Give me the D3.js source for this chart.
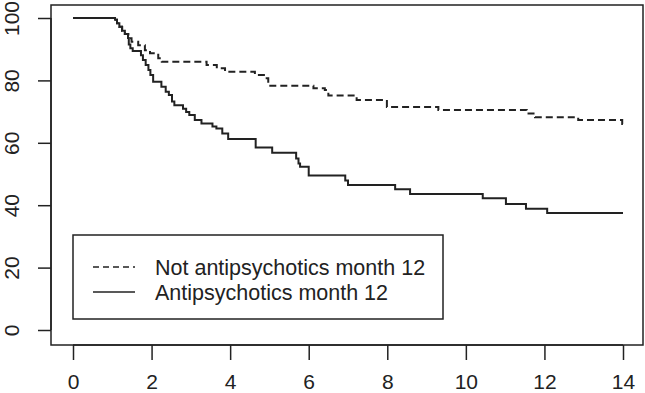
<!DOCTYPE html>
<html lang="en">
  <head>
    <meta charset="UTF-8" />
    <title>Survival curves</title>
    <style>
      body { margin: 0; background: #fff; }
      text { font-family: "Liberation Sans", Arial, sans-serif; fill: #222; }
    </style>
  </head>
  <body>
    <script src="https://cdn.jsdelivr.net/npm/d3@7"></script>
    <script>
      // step points [time, percent]
      var notAntiTimes = [0, 1.07, 1.12, 1.18, 1.25, 1.32, 1.41, 1.49, 1.66, 1.83, 1.96, 2.17, 2.26,
                          3.40, 3.66, 3.87, 4.63, 4.93, 4.97, 6.12, 6.41, 6.50, 7.22, 7.99, 9.30,
                          11.55, 11.76, 12.86, 13.98, 14.0];
      var notAntiValues = [100, 99.4, 98.3, 97.2, 95.9, 94.9, 93.5, 92.4, 91.3, 89.7, 88.7, 87.1, 86.0,
                           84.9, 83.9, 82.8, 81.7, 80.7, 78.3, 77.5, 76.9, 75.2, 73.7, 71.5, 70.5,
                           69.4, 68.2, 67.3, 66.0, 66.0];

      var antiTimes = [0, 1.07, 1.12, 1.18, 1.25, 1.32, 1.40, 1.42, 1.46, 1.52, 1.73, 1.78, 1.85, 1.92,
                       1.97, 2.04, 2.25, 2.36, 2.44, 2.52, 2.58, 2.80, 2.88, 2.96, 3.10, 3.27, 3.55,
                       3.65, 3.80, 3.95, 4.65, 5.07, 5.68, 5.74, 5.78, 6.00, 6.93, 7.00, 8.20, 8.58,
                       10.43, 11.02, 11.53, 12.07, 14.0];
      var antiValues = [100, 99.4, 98.3, 97.2, 95.9, 94.9, 93.6, 91.5, 90.3, 89.4, 88.1, 86.5, 84.9, 83.3,
                        81.7, 79.6, 78.0, 76.4, 75.3, 73.2, 72.0, 70.9, 69.9, 68.9, 67.3, 66.2, 65.2,
                        64.6, 63.0, 61.2, 58.5, 56.8, 55.0, 53.4, 52.3, 49.5, 47.9, 46.5, 45.1, 43.6,
                        42.2, 40.4, 38.9, 37.5, 37.5];

      var xTicks = [0, 2, 4, 6, 8, 10, 12, 14];
      var yTicks = [0, 20, 40, 60, 80, 100];
      var legendLabels = ["Not antipsychotics month 12", "Antipsychotics month 12"];

      var w = 645, h = 393;
      var box = { left: 51, right: 643, top: 5, bottom: 345 };

      var svg = d3.select("body").append("svg")
                  .attr("width", w)
                  .attr("height", h);

      var xScale = d3.scaleLinear().domain([0, 14]).range([73, 623]);
      var yScale = d3.scaleLinear().domain([0, 100]).range([330, 18]);

      // plot frame
      svg.append("rect")
         .attr("x", box.left).attr("y", box.top)
         .attr("width", box.right - box.left)
         .attr("height", box.bottom - box.top)
         .attr("fill", "none")
         .attr("stroke", "#222")
         .attr("stroke-width", 1.5);

      // x axis
      var xAxis = d3.axisBottom(xScale).tickValues(xTicks).tickSize(15).tickSizeOuter(0).tickPadding(14);
      var gx = svg.append("g")
                  .attr("transform", "translate(0," + box.bottom + ")")
                  .call(xAxis);
      gx.select(".domain")
        .attr("d", "M" + xScale(0) + ",0H" + xScale(14))
        .attr("stroke", "#222").attr("stroke-width", 1.5);
      gx.selectAll(".tick line").attr("stroke", "#222").attr("stroke-width", 1.5);
      gx.selectAll(".tick text").attr("font-size", 21).attr("fill", "#222")
        .attr("font-family", "Liberation Sans, Arial, sans-serif");

      // y axis
      var yAxis = d3.axisLeft(yScale).tickValues(yTicks).tickSize(13).tickSizeOuter(0);
      var gy = svg.append("g")
                  .attr("transform", "translate(" + box.left + ",0)")
                  .call(yAxis);
      gy.select(".domain")
        .attr("d", "M0," + yScale(0) + "V" + yScale(100))
        .attr("stroke", "#222").attr("stroke-width", 1.5);
      gy.selectAll(".tick line").attr("stroke", "#222").attr("stroke-width", 1.5);
      gy.selectAll(".tick text")
        .attr("font-size", 21).attr("fill", "#222")
        .attr("font-family", "Liberation Sans, Arial, sans-serif")
        .attr("text-anchor", "middle")
        .attr("x", null).attr("dy", null)
        .attr("transform", "translate(" + (19 - box.left) + ",0) rotate(-90)");

      var line = d3.line()
                   .x(function(d) { return xScale(d[0]); })
                   .y(function(d) { return yScale(d[1]); })
                   .curve(d3.curveStepAfter);

      var notAnti = d3.zip(notAntiTimes, notAntiValues);
      var anti = d3.zip(antiTimes, antiValues);

      svg.append("path")
         .datum(notAnti)
         .attr("d", line)
         .attr("fill", "none")
         .attr("stroke", "#222")
         .attr("stroke-width", 2)
         .attr("stroke-dasharray", "7,4");

      svg.append("path")
         .datum(anti)
         .attr("d", line)
         .attr("fill", "none")
         .attr("stroke", "#222")
         .attr("stroke-width", 2);

      // legend
      var lg = svg.append("g");
      lg.append("rect")
        .attr("x", 73).attr("y", 235)
        .attr("width", 370).attr("height", 84)
        .attr("fill", "#fff")
        .attr("stroke", "#222")
        .attr("stroke-width", 1.5);

      legendLabels.forEach(function(lab, i) {
        var yy = 267 + i * 25;
        lg.append("line")
          .attr("x1", 93).attr("x2", 135)
          .attr("y1", yy).attr("y2", yy)
          .attr("stroke", "#222")
          .attr("stroke-width", 1.5)
          .attr("stroke-dasharray", i === 0 ? "6,4" : null);
        lg.append("text")
          .attr("x", 155).attr("y", yy + 8)
          .attr("font-size", 21.5)
          .text(lab);
      });
    </script>
  </body>
</html>
